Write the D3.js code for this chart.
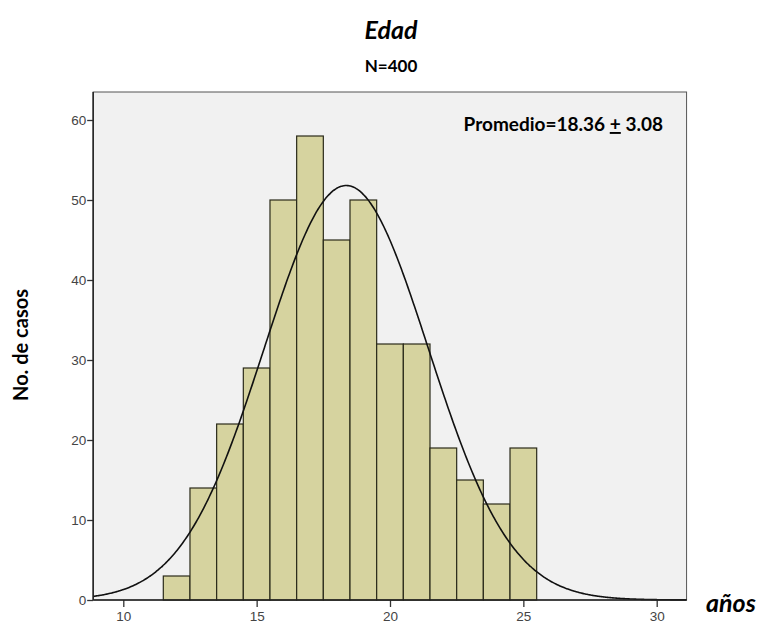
<!DOCTYPE html>
<html>
<head>
<meta charset="utf-8">
<script src="https://cdn.jsdelivr.net/npm/d3@7"></script>
<style>
  body { margin: 0; background: #fff; }
  svg { display: block; }
  .tick text { font-family: "Liberation Sans", Arial, sans-serif; font-size: 13.5px; fill: #444; }
  .lbl { font-family: Lato, "Open Sans", sans-serif; font-weight: bold; fill: #000; }
</style>
</head>
<body>
<div id="wrapper"></div>
<script>
// age bins (centre of each 1-year bin) and counts
const ages = [12, 13, 14, 15, 16, 17, 18, 19, 20, 21, 22, 23, 24, 25]
const counts = [3, 14, 22, 29, 50, 58, 45, 50, 32, 32, 19, 15, 12, 19]
const xTicks = [10, 15, 20, 25, 30]
const yTicks = [0, 10, 20, 30, 40, 50, 60]
const mean = 18.36
const sd = 3.08
const total = 400

const width = 761
const height = 629

const xDomain = [8.87, 31.12]
const yDomain = [0, 63.5]

const xScale = d3.scaleLinear()
  .domain([10, 30])
  .range([123.3, 656.7])
const yScale = d3.scaleLinear()
  .domain([0, 60])
  .range([600, 120])

const svg = d3.select("#wrapper")
  .append("svg")
  .attr("width", width)
  .attr("height", height)

const plotLeft = xScale(xDomain[0])
const plotRight = xScale(xDomain[1])
const plotTop = yScale(yDomain[1])
const plotBottom = yScale(0)

// plot background
svg.append("rect")
  .attr("x", plotLeft)
  .attr("y", plotTop)
  .attr("width", plotRight - plotLeft)
  .attr("height", plotBottom - plotTop)
  .attr("fill", "#f1f1f1")
  .attr("stroke", "#555")
  .attr("stroke-width", 1)

// bars
svg.selectAll(".bar")
  .data(ages)
  .enter().append("rect")
  .attr("class", "bar")
  .attr("x", d => xScale(d - 0.5))
  .attr("y", (d, i) => yScale(counts[i]))
  .attr("width", d => xScale(d + 0.5) - xScale(d - 0.5))
  .attr("height", (d, i) => yScale(0) - yScale(counts[i]))
  .attr("fill", "#d6d39f")
  .attr("stroke", "#2a2a1a")
  .attr("stroke-width", 1.2)

// normal curve
const curveXs = d3.range(xDomain[0], xDomain[1] + 0.001, 0.05)
const normal = x => total * 1 / (sd * Math.sqrt(2 * Math.PI)) * Math.exp(-0.5 * ((x - mean) / sd) ** 2)
const line = d3.line()
  .x(d => xScale(d))
  .y(d => yScale(normal(d)))
  .curve(d3.curveBasis)
svg.append("path")
  .attr("d", line(curveXs))
  .attr("fill", "none")
  .attr("stroke", "#111")
  .attr("stroke-width", 1.6)

// axes
const xAxis = d3.axisBottom(xScale)
  .tickValues(xTicks)
  .tickSize(7)
  .tickPadding(4)
  .tickSizeOuter(0)
const xAxisGroup = svg.append("g")
  .attr("transform", `translate(0, ${plotBottom})`)
  .call(xAxis)
xAxisGroup.select(".domain").remove()
xAxisGroup.append("line")
  .attr("x1", plotLeft).attr("x2", plotRight)
  .attr("stroke", "#222").attr("stroke-width", 1.5)

const yAxis = d3.axisLeft(yScale)
  .tickValues(yTicks)
  .tickSize(6)
  .tickPadding(1)
const yAxisGroup = svg.append("g")
  .attr("transform", `translate(${plotLeft}, 0)`)
  .call(yAxis)
yAxisGroup.select(".domain").remove()
yAxisGroup.append("line")
  .attr("y1", plotTop).attr("y2", plotBottom)
  .attr("stroke", "#222").attr("stroke-width", 1.5)
svg.selectAll(".tick line").attr("stroke", "#333").attr("stroke-width", 1.3)

// texts
svg.append("text")
  .attr("class", "lbl")
  .attr("x", 391)
  .attr("y", 39)
  .attr("text-anchor", "middle")
  .style("font-size", "25px")
  .style("font-style", "italic")
  .text("Edad")

svg.append("text")
  .attr("class", "lbl")
  .attr("x", 391)
  .attr("y", 72)
  .attr("text-anchor", "middle")
  .style("font-size", "17px")
  .text("N=400")

const promedio = svg.append("text")
  .attr("class", "lbl")
  .attr("x", 663)
  .attr("y", 131)
  .attr("text-anchor", "end")
  .style("font-size", "19px")
promedio.append("tspan").text("Promedio=18.36 ")
promedio.append("tspan").style("text-decoration", "underline").text("+")
promedio.append("tspan").text(" 3.08")

svg.append("text")
  .attr("class", "lbl")
  .attr("transform", "translate(28, 345) rotate(-90)")
  .attr("text-anchor", "middle")
  .style("font-size", "20px")
  .text("No. de casos")

svg.append("text")
  .attr("class", "lbl")
  .attr("x", 706)
  .attr("y", 612)
  .style("font-size", "25px")
  .style("font-style", "italic")
  .text("años")
</script>
</body>
</html>
